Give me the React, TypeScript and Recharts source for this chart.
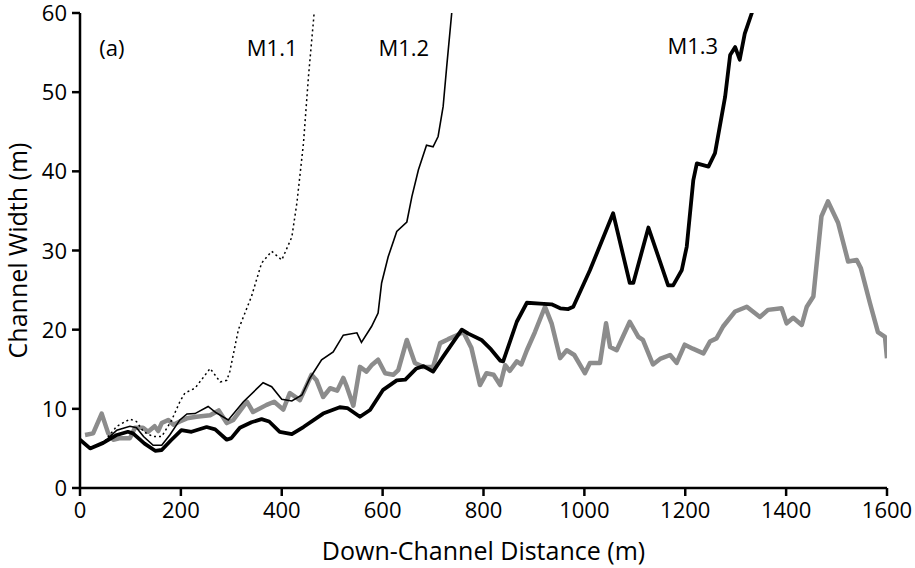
import { LineChart, Line, XAxis, YAxis, Label, ReferenceDot } from 'recharts';

// observed channel width (grey)
const observed: [number, number][] = [
  [10, 6.7], [26, 6.9], [43, 9.4], [56, 6.9], [66, 6.1], [80, 6.3], [99, 6.3], [109, 7.6],
  [125, 7.6], [135, 7.1], [148, 7.8], [155, 7.2], [162, 8.2], [175, 8.6], [185, 8.0], [198, 8.4],
  [212, 8.8], [231, 9.0], [258, 9.2], [275, 9.8], [291, 8.2], [304, 8.6], [331, 10.9], [343, 9.6],
  [370, 10.5], [385, 10.9], [403, 9.9], [416, 12.0], [436, 11.1], [459, 14.3], [469, 13.6],
  [482, 11.5], [496, 12.6], [510, 12.3], [522, 13.9], [529, 12.8], [542, 10.4], [555, 15.3],
  [568, 14.7], [578, 15.5], [591, 16.2], [605, 14.5], [621, 14.3], [631, 14.9], [648, 18.7],
  [664, 15.8], [680, 15.3], [700, 15.3], [714, 18.3], [730, 18.8], [747, 19.3], [760, 19.7],
  [776, 17.7], [793, 13.0], [806, 14.5], [820, 14.3], [833, 13.0], [843, 15.5], [852, 14.8],
  [866, 16.0], [875, 15.6], [886, 17.4], [902, 19.7], [922, 22.9], [935, 20.8], [952, 16.4],
  [965, 17.4], [980, 16.8], [1001, 14.5], [1011, 15.8], [1031, 15.8], [1043, 20.8], [1051, 17.8],
  [1064, 17.4], [1090, 21.0], [1107, 19.1], [1116, 18.7], [1136, 15.6], [1150, 16.3], [1170, 16.8],
  [1183, 15.8], [1199, 18.1], [1215, 17.6], [1236, 17.0], [1249, 18.5], [1262, 18.9], [1275, 20.4],
  [1299, 22.3], [1322, 22.9], [1348, 21.6], [1364, 22.5], [1391, 22.7], [1401, 20.8], [1414, 21.5],
  [1431, 20.6], [1441, 22.9], [1454, 24.2], [1470, 34.3], [1483, 36.2], [1503, 33.5], [1523, 28.6],
  [1540, 28.8], [1548, 27.8], [1566, 23.4], [1582, 19.7], [1596, 19.1], [1600, 16.4],
];

// model runs
const m11: [number, number][] = [
  [0, 6.1], [20, 5.0], [46, 5.7], [73, 7.8], [99, 8.7], [112, 8.4], [126, 7.1], [145, 6.5],
  [162, 6.5], [182, 8.6], [198, 10.9], [208, 12.0], [228, 12.6], [258, 15.1], [278, 13.4],
  [291, 13.6], [297, 14.7], [314, 20.0], [340, 24.2], [360, 28.4], [380, 29.9], [400, 28.8],
  [420, 31.7], [430, 36.0], [443, 43.5], [453, 52.0], [463, 59.1], [468, 63],
];

const m12: [number, number][] = [
  [0, 6.1], [20, 5.0], [46, 5.7], [73, 7.3], [99, 7.8], [112, 7.6], [126, 6.5], [145, 5.4],
  [162, 5.4], [178, 6.7], [198, 8.6], [212, 9.35], [228, 9.4], [254, 10.3], [270, 9.5],
  [294, 8.6], [324, 10.9], [363, 13.3], [380, 12.8], [400, 11.2], [420, 11.0], [440, 11.75],
  [456, 13.9], [479, 16.2], [502, 17.2], [522, 19.3], [549, 19.6], [558, 18.4], [578, 20.4],
  [591, 22.1], [598, 25.9], [611, 29.2], [628, 32.4], [648, 33.6], [658, 36.8], [671, 40.2],
  [687, 43.3], [700, 43.1], [710, 44.4], [720, 48.2], [727, 53.2], [737, 60], [740, 64],
];

const m13: [number, number][] = [
  [0, 6.1], [20, 5.0], [46, 5.7], [73, 6.7], [95, 7.1], [105, 6.9], [128, 5.6], [149, 4.7],
  [162, 4.8], [180, 6.0], [201, 7.3], [221, 7.1], [251, 7.7], [268, 7.4], [291, 6.1], [300, 6.3],
  [317, 7.6], [340, 8.3], [360, 8.7], [375, 8.4], [396, 7.1], [420, 6.8], [443, 7.7], [482, 9.4],
  [515, 10.2], [530, 10.1], [555, 9.0], [575, 9.85], [601, 12.4], [628, 13.6], [645, 13.7],
  [667, 15.1], [681, 15.4], [700, 14.7], [720, 16.6], [757, 20.0], [770, 19.5], [796, 18.7],
  [815, 17.5], [833, 16.1], [839, 16.0], [866, 21.0], [886, 23.4], [912, 23.3], [935, 23.2],
  [952, 22.7], [968, 22.6], [978, 22.9], [1011, 27.5], [1057, 34.7], [1090, 25.9], [1097, 25.9],
  [1127, 32.9], [1166, 25.6], [1176, 25.6], [1193, 27.5], [1203, 30.5], [1216, 38.9], [1223, 41.0],
  [1246, 40.6], [1259, 42.3], [1279, 49.4], [1289, 54.7], [1299, 55.7], [1308, 54.1], [1318, 57.4],
  [1332, 60], [1336, 62],
];

const xTicks = [0, 200, 400, 600, 800, 1000, 1200, 1400, 1600];
const yTicks = [0, 10, 20, 30, 40, 50, 60];

const runLabels = [
  { text: '(a)', x: 63, y: 55.6 },
  { text: 'M1.1', x: 381, y: 55.6 },
  { text: 'M1.2', x: 642, y: 55.6 },
  { text: 'M1.3', x: 1215, y: 55.8 },
];

const toPts = (arr: [number, number][]) => arr.map(([x, y]) => ({ x, y }));

const font = '"Open Sans", "Noto Sans", sans-serif';

const XTick = (props: any) => {
  const { x, y, payload } = props;
  return (
    <text x={x} y={y} dy={20} textAnchor="middle" fill="#000" fontSize={22} fontFamily={font}>
      {payload.value}
    </text>
  );
};

const YTick = (props: any) => {
  const { x, y, payload } = props;
  return (
    <text x={x - 3} y={y} dy={8} textAnchor="end" fill="#000" fontSize={22} fontFamily={font}>
      {payload.value}
    </text>
  );
};

const YTitle = (props: any) => {
  const { viewBox } = props;
  const cy = viewBox.y + viewBox.height / 2;
  return (
    <text
      x={27}
      y={cy}
      transform={`rotate(-90, 27, ${cy})`}
      textAnchor="middle"
      fill="#000"
      fontSize={25}
      fontFamily={font}
    >
      Channel Width (m)
    </text>
  );
};

export default function App() {
  return (
    <div style={{ position: 'absolute', left: 0, top: 0, fontFamily: font }}>
      <LineChart width={915} height={568} margin={{ top: 13, right: 28, left: 0, bottom: 0 }}>
        <XAxis
          type="number"
          dataKey="x"
          domain={[0, 1600]}
          ticks={xTicks}
          allowDataOverflow
          height={80}
          stroke="#000"
          strokeWidth={2.5}
          tickSize={8}
          tick={<XTick />}
        >
          <Label
            value="Down-Channel Distance (m)"
            position="insideBottom"
            offset={8}
            style={{ fill: '#000', fontSize: 25, fontFamily: font }}
          />
        </XAxis>
        <XAxis xAxisId="top" orientation="top" type="number" domain={[0, 1600]} height={0} tick={false} tickLine={false} stroke="#000" strokeWidth={2.5} />
        <YAxis
          type="number"
          domain={[0, 60]}
          ticks={yTicks}
          allowDataOverflow
          width={80}
          stroke="#000"
          strokeWidth={2.5}
          tickSize={8}
          tick={<YTick />}
        >
          <Label content={<YTitle />} />
        </YAxis>
        <YAxis yAxisId="right" orientation="right" domain={[0, 60]} width={0} tick={false} tickLine={false} stroke="#000" strokeWidth={2.5} />
        <Line data={toPts(observed)} dataKey="y" stroke="#8c8c8c" strokeWidth={4.5} dot={false} isAnimationActive={false} strokeLinejoin="round" />
        <Line data={toPts(m11)} dataKey="y" stroke="#000" strokeWidth={1.5} strokeDasharray="2 3" dot={false} isAnimationActive={false} />
        <Line data={toPts(m12)} dataKey="y" stroke="#000" strokeWidth={1.6} dot={false} isAnimationActive={false} />
        <Line data={toPts(m13)} dataKey="y" stroke="#000" strokeWidth={3.8} dot={false} isAnimationActive={false} strokeLinejoin="round" />
        {runLabels.map((l) => (
          <ReferenceDot
            key={l.text}
            x={l.x}
            y={l.y}
            r={0}
            fill="none"
            stroke="none"
            label={{ value: l.text, position: 'center', fill: '#000', fontSize: 22, fontFamily: font }}
          />
        ))}
      </LineChart>
    </div>
  );
}
